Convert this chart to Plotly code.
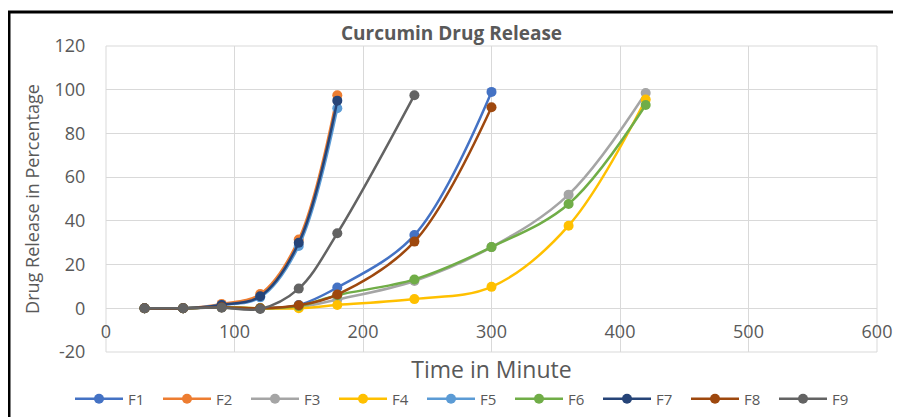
import plotly.graph_objects as go

#%% DATA

time_min = [30, 60, 90, 120, 150, 180, 240, 300, 360, 420]

f1 = [0, 0, 0.5, 0, 1.5, 9.5, 33.5, 99]
f2 = [0, 0, 2, 6.5, 31.5, 97.5]
f3 = [0, 0, 0.5, 0, 0.5, 4, 12.5, 28, 52, 98.5]
f4 = [0, 0, 0.5, 0, 0, 1.5, 4.2, 9.8, 37.8, 95.5]
f5 = [0, 0, 1.5, 5, 28.5, 91.5]
f6 = [0, 0, 0.5, 0, 1, 6, 13.2, 28, 47.7, 93]
f7 = [0, 0, 1.5, 5.5, 30, 95]
f8 = [0, 0, 0.5, 0, 1.4, 6.3, 30.5, 92]
f9 = [0, 0, 0.3, -0.3, 9, 34.3, 97.5]

y_tick_vals = [-20, 0, 20, 40, 60, 80, 100, 120]
y_tick_text = ['-20', '0', '20', '40', '60', '80', '100', '120']

series = [
    ('F1', f1, '#4472C4'),
    ('F2', f2, '#ED7D31'),
    ('F3', f3, '#A5A5A5'),
    ('F4', f4, '#FFC000'),
    ('F5', f5, '#5B9BD5'),
    ('F6', f6, '#70AD47'),
    ('F7', f7, '#264478'),
    ('F8', f8, '#9E480E'),
    ('F9', f9, '#636363'),
]

#%% PLOT

grey_txt = '#595959'
grid_col = '#D9D9D9'
font_family = 'Open Sans'

# page body has an 8px margin, figure is drawn 8px in
W, H = 893, 409

fig = go.Figure()

for name, vals, col in series:
    fig.add_trace(go.Scatter(
        x=time_min[:len(vals)],
        y=vals,
        name=name,
        mode='lines+markers',
        line=dict(color=col, width=2.5, shape='spline', smoothing=1),
        marker=dict(color=col, size=10),
    ))

fig.update_layout(
    width=W,
    height=H,
    template='plotly_white',
    plot_bgcolor='white',
    paper_bgcolor='white',
    margin=dict(l=98, r=24, t=38, b=65, autoexpand=False),
    font=dict(family=font_family, color=grey_txt),
    title=dict(
        text='<b>Curcumin Drug Release</b>',
        x=443.5 / W, xref='container', xanchor='center',
        y=1 - 25 / H, yref='container', yanchor='middle',
        font=dict(size=19, color=grey_txt),
    ),
    xaxis=dict(
        range=[0, 600],
        dtick=100,
        showgrid=True,
        gridcolor=grid_col,
        gridwidth=1,
        zeroline=False,
        showline=False,
        anchor='free',
        position=(352 - 308) / 306,
        ticks='outside',
        ticklen=0,
        ticklabelstandoff=7,
        tickfont=dict(size=18, color=grey_txt),
        title=dict(text='Time in Minute', font=dict(size=23, color=grey_txt), standoff=20),
    ),
    yaxis=dict(
        range=[-20, 120],
        tickvals=y_tick_vals,
        ticktext=y_tick_text,
        showgrid=True,
        gridcolor=grid_col,
        gridwidth=1,
        zeroline=True,
        zerolinecolor=grid_col,
        zerolinewidth=1,
        showline=False,
        ticks='outside',
        ticklen=0,
        ticklabelstandoff=16,
        tickfont=dict(size=18, color=grey_txt),
        title=dict(text='Drug Release in Percentage', font=dict(size=18, color=grey_txt), standoff=10),
    ),
    legend=dict(
        orientation='h',
        xref='paper', x=(70 - 106) / 771, xanchor='left',
        yref='paper', y=(352 - 399) / 306, yanchor='middle',
        font=dict(size=15, color=grey_txt),
        itemwidth=48,
        entrywidth=25,
        bgcolor='rgba(0,0,0,0)',
    ),
)

# plot box edges on 0 and 600 / 120 and -20
fig.add_shape(type='rect', xref='paper', yref='paper', x0=0, x1=1, y0=0, y1=1,
              line=dict(color=grid_col, width=1), layer='below')

# black frame of the chart image
fig.add_shape(type='rect', xref='paper', yref='paper',
              x0=(9 - 106) / 771, x1=(915 - 106) / 771,
              y0=(352 - 430) / 306, y1=(352 - 12) / 306,
              line=dict(color='black', width=3))

fig.write_html('out.html')
